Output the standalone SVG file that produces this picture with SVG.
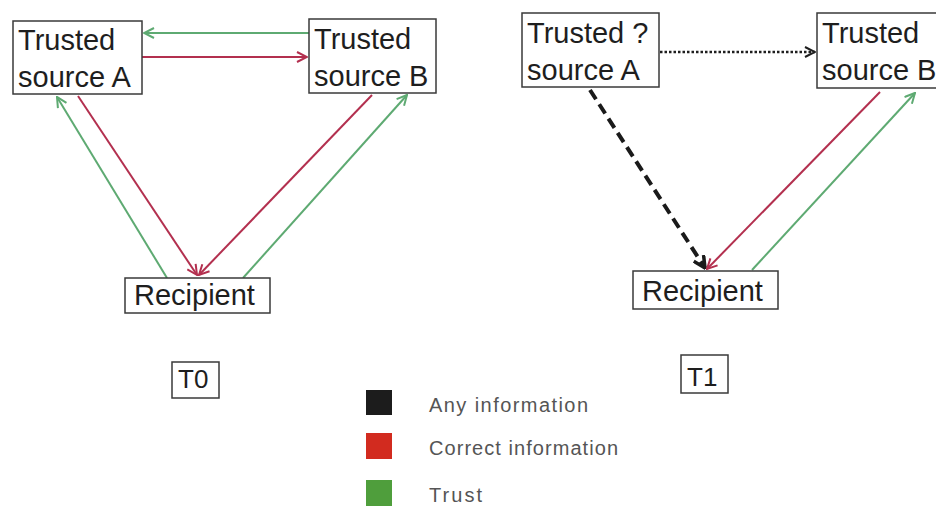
<svg xmlns="http://www.w3.org/2000/svg" width="936" height="508" viewBox="0 0 936 508">
  <style>
    .box { fill: #ffffff; stroke: #3a3a3a; stroke-width: 1.5; }
    .lbl { font-family: "Liberation Sans", Arial, sans-serif; font-size: 29px; fill: #1e1e1e; }
    .leg { font-family: "Liberation Sans", Arial, sans-serif; font-size: 20px; fill: #555555; }
    .red { stroke: #b3304f; stroke-width: 2; fill: none; }
    .green { stroke: #5eaa72; stroke-width: 2; fill: none; }
    .black { stroke: #1a1a1a; stroke-width: 4; fill: none; stroke-dasharray: 11 6; }
    .dot { stroke: #1e1e1e; stroke-width: 2.5; fill: none; stroke-dasharray: 2.5 2; }
  </style>
  <defs>
    <marker id="mRed" viewBox="0 0 12 12" refX="11" refY="6" markerWidth="12" markerHeight="12" markerUnits="userSpaceOnUse" orient="auto">
      <path d="M1,1 L11,6 L1,11" fill="none" stroke="#b3304f" stroke-width="2"/>
    </marker>
    <marker id="mGreen" viewBox="0 0 12 12" refX="11" refY="6" markerWidth="12" markerHeight="12" markerUnits="userSpaceOnUse" orient="auto">
      <path d="M1,1 L11,6 L1,11" fill="none" stroke="#5eaa72" stroke-width="2"/>
    </marker>
    <marker id="mBlack" viewBox="0 0 12 12" refX="11" refY="6" markerWidth="14" markerHeight="14" markerUnits="userSpaceOnUse" orient="auto">
      <path d="M1,1 L11,6 L1,11" fill="none" stroke="#1a1a1a" stroke-width="3"/>
    </marker>
    <marker id="mDot" viewBox="0 0 12 12" refX="11" refY="6" markerWidth="12" markerHeight="12" markerUnits="userSpaceOnUse" orient="auto">
      <path d="M1,1 L11,6 L1,11" fill="none" stroke="#1e1e1e" stroke-width="2"/>
    </marker>
  </defs>

  <rect width="936" height="508" fill="#ffffff"/>

  <!-- connectors -->
  <g id="connectors">
    <!-- T0 -->
    <line class="green" x1="309" y1="33" x2="144" y2="33" marker-end="url(#mGreen)"/>
    <line class="red" x1="142" y1="57" x2="307" y2="57" marker-end="url(#mRed)"/>
    <line class="red" x1="78" y1="96" x2="197" y2="275" marker-end="url(#mRed)"/>
    <line class="green" x1="167" y1="278" x2="57" y2="97" marker-end="url(#mGreen)"/>
    <line class="red" x1="372" y1="95" x2="199" y2="275" marker-end="url(#mRed)"/>
    <line class="green" x1="243" y1="278" x2="407" y2="95" marker-end="url(#mGreen)"/>
    <!-- T1 -->
    <line class="dot" x1="660" y1="52" x2="815" y2="52" marker-end="url(#mDot)"/>
    <line class="black" x1="590" y1="90" x2="705" y2="268" marker-end="url(#mBlack)"/>
    <line class="red" x1="880" y1="92" x2="707" y2="269" marker-end="url(#mRed)"/>
    <line class="green" x1="752" y1="270" x2="915" y2="93" marker-end="url(#mGreen)"/>
  </g>

  <!-- T0 nodes -->
  <g id="t0-source-a">
    <rect class="box" x="13" y="21" width="129" height="73"/>
    <text class="lbl" x="18" y="50">Trusted</text>
    <text class="lbl" x="18" y="87">source A</text>
  </g>
  <g id="t0-source-b">
    <rect class="box" x="309" y="19" width="127" height="74"/>
    <text class="lbl" x="314" y="49">Trusted</text>
    <text class="lbl" x="314" y="86">source B</text>
  </g>
  <g id="t0-recipient">
    <rect class="box" x="125" y="278" width="145" height="35"/>
    <text class="lbl" x="134" y="305">Recipient</text>
  </g>
  <g id="t0-label">
    <rect class="box" x="172" y="362" width="47" height="36"/>
    <text class="lbl" x="178" y="388" style="font-size:26px">T0</text>
  </g>

  <!-- T1 nodes -->
  <g id="t1-source-a">
    <rect class="box" x="522" y="13" width="137" height="74"/>
    <text class="lbl" x="527" y="43">Trusted ?</text>
    <text class="lbl" x="527" y="80">source A</text>
  </g>
  <g id="t1-source-b">
    <rect class="box" x="817" y="13" width="130" height="75"/>
    <text class="lbl" x="822" y="43">Trusted</text>
    <text class="lbl" x="822" y="80">source B</text>
  </g>
  <g id="t1-recipient">
    <rect class="box" x="633" y="271" width="145" height="38"/>
    <text class="lbl" x="642" y="301">Recipient</text>
  </g>
  <g id="t1-label">
    <rect class="box" x="681" y="355" width="47" height="38"/>
    <text class="lbl" x="687" y="386" style="font-size:26px">T1</text>
  </g>

  <!-- legend -->
  <g id="legend">
    <rect x="366" y="390" width="26" height="25" fill="#1c1c1c"/>
    <text class="leg" x="429" y="412" textLength="159">Any information</text>
    <rect x="366" y="433" width="26" height="26" fill="#d22b1f"/>
    <text class="leg" x="429" y="455" textLength="189">Correct information</text>
    <rect x="366" y="480" width="26" height="26" fill="#4f9e3c"/>
    <text class="leg" x="429" y="502" textLength="53">Trust</text>
  </g>
</svg>
